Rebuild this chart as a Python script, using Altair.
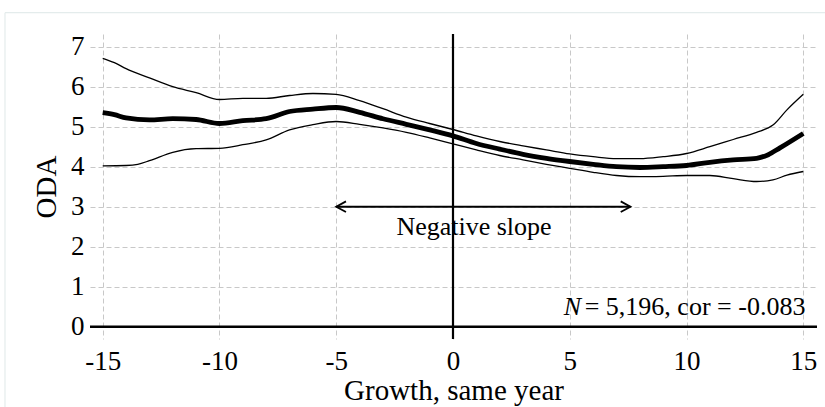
import altair as alt
import pandas as pd

# ---- data ----
mid_x = [-15, -14.5, -14, -13, -12, -11, -10, -9, -8, -7, -6, -5, -4, -3, -2, -1, 0,
         1, 2, 3, 4, 5, 6, 7, 8, 9, 10, 11, 12, 13, 13.5, 14, 15]
mid_y = [5.35, 5.30, 5.22, 5.17, 5.20, 5.18, 5.08, 5.15, 5.20, 5.38, 5.44, 5.48, 5.36, 5.20, 5.06, 4.92, 4.77,
         4.58, 4.44, 4.31, 4.21, 4.13, 4.06, 4.00, 3.98, 4.00, 4.03, 4.11, 4.17, 4.21, 4.30, 4.47, 4.83]

up_x = [-15, -14.5, -14, -13, -12, -11, -10, -9, -8, -7, -6, -5, -4, -3, -2, -1, 0,
        1, 2, 3, 4, 5, 6, 7, 8, 9, 10, 11, 12, 13, 13.7, 14.3, 15]
up_y = [6.71, 6.60, 6.45, 6.22, 6.00, 5.85, 5.68, 5.71, 5.71, 5.78, 5.83, 5.81, 5.65, 5.45, 5.24, 5.08, 4.93,
        4.77, 4.63, 4.52, 4.42, 4.32, 4.25, 4.20, 4.20, 4.25, 4.33, 4.50, 4.68, 4.86, 5.04, 5.42, 5.81]

lo_x = [-15, -14, -13.5, -13, -12, -11, -10, -9, -8, -7, -6, -5, -4, -3, -2, -1, 0,
        1, 2, 3, 4, 5, 6, 7, 8, 9, 10, 11, 12, 13, 13.7, 14.3, 15]
lo_y = [4.02, 4.03, 4.06, 4.15, 4.36, 4.45, 4.46, 4.55, 4.67, 4.92, 5.05, 5.13, 5.06, 4.97, 4.86, 4.72, 4.57,
        4.42, 4.28, 4.17, 4.06, 3.96, 3.86, 3.78, 3.75, 3.76, 3.78, 3.78, 3.70, 3.63, 3.67, 3.79, 3.88]

x_ticks = [-15, -10, -5, 0, 5, 10, 15]
y_ticks = [0, 1, 2, 3, 4, 5, 6, 7]

arrow_x = [-5, 7.6]
arrow_y = 3
label_text = "Negative slope"
stat_text = " = 5,196, cor = -0.083"

FONT = "Liberation Serif"
X_DOM = [-15.544, 15.587]
Y_DOM = [-0.3075, 7.3175]

mid = pd.DataFrame({"x": mid_x, "y": mid_y})
up = pd.DataFrame({"x": up_x, "y": up_y})
lo = pd.DataFrame({"x": lo_x, "y": lo_y})

xs = alt.Scale(domain=X_DOM, nice=False, zero=False)
ys = alt.Scale(domain=Y_DOM, nice=False, zero=False)

common = dict(grid=True, gridColor="#c8c8c8", gridDash=[5, 3], gridWidth=1,
              domain=False, ticks=False, labelFont=FONT, labelFontSize=27, labelColor="black",
              titleFont=FONT, titleFontSize=29, titleFontWeight="normal", titleColor="black",
              labelFlush=False, labelExpr="'' + datum.value")
xaxis = alt.Axis(values=x_ticks, title="Growth, same year", labelPadding=9, titlePadding=2, **common)
yaxis = alt.Axis(values=y_ticks, title="ODA", labelPadding=6, titlePadding=9, **common)

def X(f):
    return alt.X(f, scale=xs, axis=xaxis)

def Y(f):
    return alt.Y(f, scale=ys, axis=yaxis)

base_mid = alt.Chart(mid).mark_line(color="black", strokeWidth=4.8, interpolate="monotone").encode(
    x=X("x:Q"), y=Y("y:Q"))
line_up = alt.Chart(up).mark_line(color="black", strokeWidth=1.3, interpolate="monotone").encode(
    x=X("x:Q"), y=Y("y:Q"))
line_lo = alt.Chart(lo).mark_line(color="black", strokeWidth=1.3, interpolate="monotone").encode(
    x=X("x:Q"), y=Y("y:Q"))

zero_df = pd.DataFrame({"v": [0]})
vline = alt.Chart(zero_df).mark_rule(color="black", strokeWidth=2.2).encode(
    x=X("v:Q"), y=alt.value(0), y2=alt.value(305))
hline = alt.Chart(zero_df).mark_rule(color="black", strokeWidth=2.6).encode(
    y=Y("v:Q"), x=alt.value(0), x2=alt.value(727))

arr_df = pd.DataFrame({"x1": [arrow_x[0]], "x2": [arrow_x[1]], "y": [arrow_y]})
arrow_line = alt.Chart(arr_df).mark_rule(color="black", strokeWidth=2).encode(
    x=X("x1:Q"), x2="x2:Q", y=Y("y:Q"))
head_l = alt.Chart(pd.DataFrame({"x": [arrow_x[0]], "y": [arrow_y]})).mark_point(
    shape="M1,-0.55L0,0L1,0.55", size=380, filled=False, stroke="black", strokeWidth=1.8, opacity=1).encode(
    x=X("x:Q"), y=Y("y:Q"))
head_r = alt.Chart(pd.DataFrame({"x": [arrow_x[1]], "y": [arrow_y]})).mark_point(
    shape="M-1,-0.55L0,0L-1,0.55", size=380, filled=False, stroke="black", strokeWidth=1.8, opacity=1).encode(
    x=X("x:Q"), y=Y("y:Q"))

neg_txt = alt.Chart(pd.DataFrame({"x": [0.9], "y": [2.29], "t": [label_text]})).mark_text(
    font=FONT, fontSize=26, color="black", align="center", baseline="alphabetic").encode(
    x=X("x:Q"), y=Y("y:Q"), text="t:N")
stat_rest = alt.Chart(pd.DataFrame({"x": [15.09], "y": [0.29], "t": [stat_text]})).mark_text(
    font=FONT, fontSize=26, color="black", align="right", baseline="alphabetic").encode(
    x=X("x:Q"), y=Y("y:Q"), text="t:N")
stat_n = alt.Chart(pd.DataFrame({"x": [5.49], "y": [0.29], "t": ["N"]})).mark_text(
    font=FONT, fontSize=26, fontStyle="italic", color="black", align="right", baseline="alphabetic").encode(
    x=X("x:Q"), y=Y("y:Q"), text="t:N")

frame_top = alt.Chart(zero_df).mark_rule(color="#e4ecec", strokeWidth=1.2).encode(
    x=alt.value(-85), x2=alt.value(740), y=alt.value(-21.3))
frame_left = alt.Chart(zero_df).mark_rule(color="#e4ecec", strokeWidth=1.2).encode(
    x=alt.value(-85), y=alt.value(-21.3), y2=alt.value(380))

chart = alt.layer(
    base_mid, line_up, line_lo, vline, hline, arrow_line, head_l, head_r,
    neg_txt, stat_rest, stat_n, frame_top, frame_left
).properties(
    width=727, height=305,
    autosize=alt.AutoSizeParams(type="none"),
    padding={"left": 90, "top": 34, "right": 8, "bottom": 68},
    background="white",
).configure_view(stroke=None).configure_axisX(
    labelFont=FONT, labelFontSize=27
).configure_axisY(labelFont=FONT, labelFontSize=27)

chart.save("out.html", embed_options={"renderer": "svg", "actions": False})
